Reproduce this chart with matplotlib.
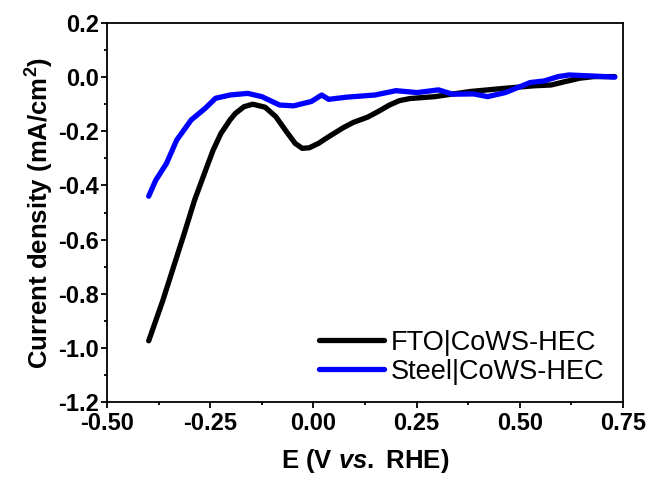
import numpy as np
import matplotlib
matplotlib.use('Agg')
import matplotlib.pyplot as plt
from matplotlib.ticker import MultipleLocator

plt.rcParams['font.family'] = ['Liberation Sans', 'DejaVu Sans']
plt.rcParams['mathtext.fontset'] = 'custom'
plt.rcParams['mathtext.rm'] = 'Liberation Sans:bold'
plt.rcParams['mathtext.bf'] = 'Liberation Sans:bold'
plt.rcParams['mathtext.it'] = 'Liberation Sans:bold:italic'

# FTO|CoWS-HEC (black)
fto_E = [-0.399, -0.365, -0.339, -0.313, -0.288, -0.258, -0.243, -0.224, -0.202,
         -0.189, -0.168, -0.147, -0.117, -0.091, -0.065, -0.044, -0.027, -0.010,
         0.012, 0.037, 0.072, 0.097, 0.131, 0.157, 0.183, 0.208, 0.234, 0.294,
         0.380, 0.465, 0.534, 0.576, 0.611, 0.645, 0.679, 0.730]
fto_j = [-0.974, -0.826, -0.702, -0.578, -0.455, -0.331, -0.270, -0.208, -0.158,
         -0.134, -0.109, -0.100, -0.111, -0.146, -0.202, -0.245, -0.263, -0.261,
         -0.245, -0.220, -0.187, -0.167, -0.148, -0.127, -0.104, -0.087, -0.079,
         -0.072, -0.053, -0.041, -0.032, -0.029, -0.016, -0.004, 0.002, 0.002]

# Steel|CoWS-HEC (blue)
steel_E = [-0.399, -0.382, -0.356, -0.331, -0.296, -0.262, -0.237, -0.202, -0.159,
           -0.125, -0.082, -0.048, -0.005, 0.020, 0.037, 0.080, 0.149, 0.200,
           0.251, 0.303, 0.337, 0.388, 0.422, 0.465, 0.525, 0.559, 0.593, 0.619,
           0.679, 0.730]
steel_j = [-0.440, -0.381, -0.319, -0.232, -0.158, -0.115, -0.078, -0.066, -0.060,
           -0.072, -0.103, -0.106, -0.090, -0.066, -0.082, -0.074, -0.066, -0.050,
           -0.057, -0.047, -0.063, -0.062, -0.072, -0.057, -0.020, -0.014, 0.002,
           0.008, 0.004, 0.000]

fig = plt.figure(figsize=(6.53, 4.88), dpi=100)
ax = fig.add_axes([107/653, 1 - 402/488, 516/653, 379/488])

ax.plot(fto_E, fto_j, color='black', lw=3.8, solid_capstyle='round',
        solid_joinstyle='round', label='FTO|CoWS-HEC')
ax.plot(steel_E, steel_j, color='#0000ff', lw=3.8, solid_capstyle='round',
        solid_joinstyle='round', label='Steel|CoWS-HEC')

ax.set_xlim(-0.5, 0.75)
ax.set_ylim(-1.2, 0.2)
ax.xaxis.set_major_locator(MultipleLocator(0.25))
ax.xaxis.set_minor_locator(MultipleLocator(0.125))
ax.yaxis.set_major_locator(MultipleLocator(0.2))
ax.yaxis.set_minor_locator(MultipleLocator(0.1))
ax.xaxis.set_major_formatter(plt.FormatStrFormatter('%.2f'))
ax.yaxis.set_major_formatter(plt.FormatStrFormatter('%.1f'))

for s in ax.spines.values():
    s.set_linewidth(1.3)
ax.tick_params(which='major', direction='out', length=4, width=1.3,
               labelsize=17, pad=1.5)
ax.tick_params(axis='x', which='major', pad=3)
ax.tick_params(which='minor', direction='out', length=2.5, width=1.3)
for lab in ax.get_xticklabels() + ax.get_yticklabels():
    lab.set_fontweight('bold')

ax.set_xlabel(r'E (V $\mathit{vs.}$ RHE)', fontsize=18.5, fontweight='bold', labelpad=9)
ax.set_ylabel(r'Current density (mA/cm$^\mathbf{2}$)', fontsize=18.5,
              fontweight='bold', labelpad=2)

ax.legend(loc='lower right', frameon=False, fontsize=19.5, handlelength=2.4,
          handletextpad=0.25, labelspacing=0.1, borderaxespad=0.1,
          bbox_to_anchor=(0.99, 0.01))

fig.savefig('out.png', dpi=100)
